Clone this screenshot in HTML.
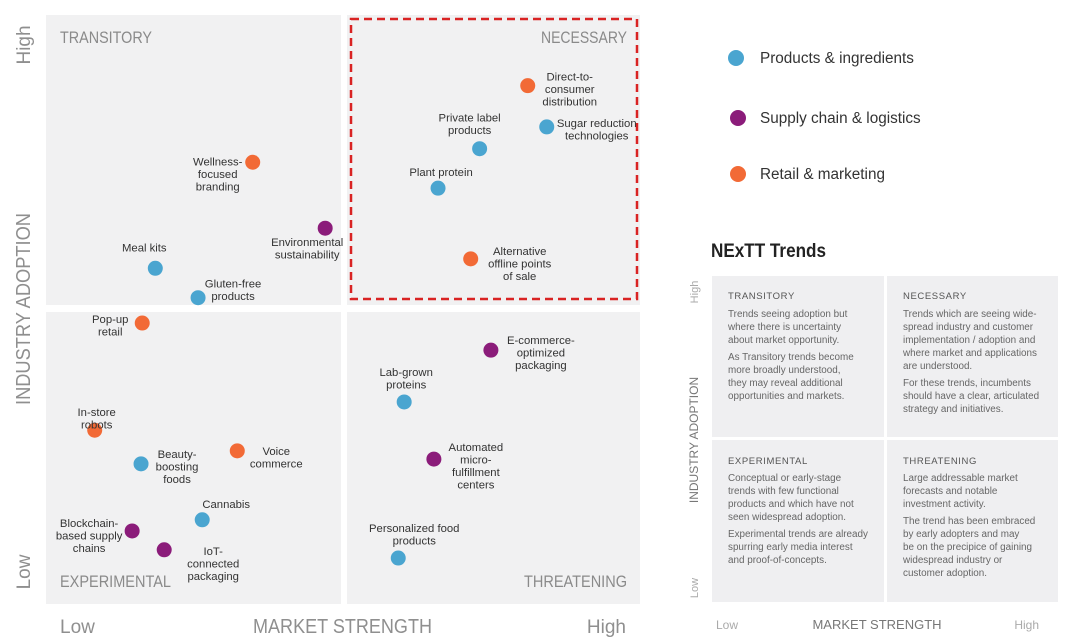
<!DOCTYPE html>
<html><head><meta charset="utf-8"><style>
html,body{margin:0;padding:0;background:#fff;}
svg{display:block;font-family:"Liberation Sans Narrow","Liberation Sans",sans-serif;}
.lbl{font-size:11.3px;fill:#333;}
.qt{font-size:17px;fill:#8a8a8a;}
.ax{font-size:19px;fill:#8f8f8f;}
.rp{font-family:"Liberation Sans",sans-serif;font-size:9.9px;fill:#666;}
.rh{font-family:"Liberation Sans",sans-serif;font-size:9.5px;fill:#555;letter-spacing:0.6px;}
.lg{font-family:"Liberation Sans",sans-serif;font-size:15.3px;fill:#333;}
</style></head><body>
<svg id="chart" width="1077" height="639" viewBox="0 0 1077 639">
<rect x="46" y="15" width="295" height="290" fill="#f1f1f2"/>
<rect x="347" y="15" width="293" height="290" fill="#f1f1f2"/>
<rect x="46" y="312" width="295" height="292" fill="#f1f1f2"/>
<rect x="347" y="312" width="293" height="292" fill="#f1f1f2"/>
<rect x="351" y="19" width="286" height="280" fill="none" stroke="#d92323" stroke-width="2.5" stroke-dasharray="8,5"/>
<text class="qt" x="60" y="43" textLength="92" lengthAdjust="spacingAndGlyphs">TRANSITORY</text>
<text class="qt" x="541" y="43" textLength="86" lengthAdjust="spacingAndGlyphs">NECESSARY</text>
<text class="qt" x="60" y="587" textLength="111" lengthAdjust="spacingAndGlyphs">EXPERIMENTAL</text>
<text class="qt" x="524" y="587" textLength="103" lengthAdjust="spacingAndGlyphs">THREATENING</text>
<text class="ax" transform="translate(30,45) rotate(-90)" text-anchor="middle">High</text>
<text class="ax" transform="translate(30,405) rotate(-90)" textLength="192" lengthAdjust="spacingAndGlyphs" style="font-size:20px">INDUSTRY ADOPTION</text>
<text class="ax" transform="translate(30,572) rotate(-90)" text-anchor="middle">Low</text>
<text class="ax" x="60" y="633">Low</text>
<text class="ax" x="253" y="633" textLength="179" lengthAdjust="spacingAndGlyphs" style="font-size:20px">MARKET STRENGTH</text>
<text class="ax" x="626" y="633" text-anchor="end">High</text>
<g id="marks"></g>

<circle cx="736" cy="58" r="8" fill="#4aa5d0"/>
<text class="lg" x="760" y="63">Products &amp; ingredients</text>
<circle cx="738" cy="118" r="8" fill="#8b1c7a"/>
<text class="lg" x="760" y="123">Supply chain &amp; logistics</text>
<circle cx="738" cy="174" r="8" fill="#f26a36"/>
<text class="lg" x="760" y="179">Retail &amp; marketing</text>

<text x="711" y="257" textLength="115" lengthAdjust="spacingAndGlyphs" style="font-family:'Liberation Sans',sans-serif;font-size:19px;font-weight:bold;fill:#222">NExTT Trends</text>
<rect x="712" y="276" width="172" height="161" fill="#efeff1"/>
<rect x="887" y="276" width="171" height="161" fill="#efeff1"/>
<rect x="712" y="440" width="172" height="162" fill="#efeff1"/>
<rect x="887" y="440" width="171" height="162" fill="#efeff1"/>
<g>
<text class="rh" x="728" y="299">TRANSITORY</text>
<text class="rp" x="728" y="317">Trends seeing adoption but</text>
<text class="rp" x="728" y="330">where there is uncertainty</text>
<text class="rp" x="728" y="343">about market opportunity.</text>
<text class="rp" x="728" y="360">As Transitory trends become</text>
<text class="rp" x="728" y="373">more broadly understood,</text>
<text class="rp" x="728" y="386">they may reveal additional</text>
<text class="rp" x="728" y="399">opportunities and markets.</text>
<text class="rh" x="903" y="299">NECESSARY</text>
<text class="rp" x="903" y="317">Trends which are seeing wide-</text>
<text class="rp" x="903" y="330">spread industry and customer</text>
<text class="rp" x="903" y="343">implementation / adoption and</text>
<text class="rp" x="903" y="356">where market and applications</text>
<text class="rp" x="903" y="369">are understood.</text>
<text class="rp" x="903" y="386">For these trends, incumbents</text>
<text class="rp" x="903" y="399">should have a clear, articulated</text>
<text class="rp" x="903" y="412">strategy and initiatives.</text>
<text class="rh" x="728" y="464">EXPERIMENTAL</text>
<text class="rp" x="728" y="481">Conceptual or early-stage</text>
<text class="rp" x="728" y="494">trends with few functional</text>
<text class="rp" x="728" y="507">products and which have not</text>
<text class="rp" x="728" y="520">seen widespread adoption.</text>
<text class="rp" x="728" y="537">Experimental trends are already</text>
<text class="rp" x="728" y="550">spurring early media interest</text>
<text class="rp" x="728" y="563">and proof-of-concepts.</text>
<text class="rh" x="903" y="464">THREATENING</text>
<text class="rp" x="903" y="481">Large addressable market</text>
<text class="rp" x="903" y="494">forecasts and notable</text>
<text class="rp" x="903" y="507">investment activity.</text>
<text class="rp" x="903" y="524">The trend has been embraced</text>
<text class="rp" x="903" y="537">by early adopters and may</text>
<text class="rp" x="903" y="550">be on the precipice of gaining</text>
<text class="rp" x="903" y="563">widespread industry or</text>
<text class="rp" x="903" y="576">customer adoption.</text>
</g>
<text transform="translate(698,292) rotate(-90)" text-anchor="middle" style="font-family:'Liberation Sans',sans-serif;font-size:11px;fill:#aaa">High</text>
<text transform="translate(698,440) rotate(-90)" text-anchor="middle" style="font-family:'Liberation Sans',sans-serif;font-size:12px;fill:#777">INDUSTRY ADOPTION</text>
<text transform="translate(698,588) rotate(-90)" text-anchor="middle" style="font-family:'Liberation Sans',sans-serif;font-size:11px;fill:#aaa">Low</text>
<text x="716" y="629" style="font-family:'Liberation Sans',sans-serif;font-size:12px;fill:#aaa">Low</text>
<text x="877" y="629" text-anchor="middle" style="font-family:'Liberation Sans',sans-serif;font-size:13px;fill:#777">MARKET STRENGTH</text>
<text x="1039" y="629" text-anchor="end" style="font-family:'Liberation Sans',sans-serif;font-size:12px;fill:#aaa">High</text>
</svg>
<script>
const trendNames = ["Wellness-focused branding","Environmental sustainability","Meal kits","Gluten-free products","Pop-up retail","In-store robots","Beauty-boosting foods","Voice commerce","Cannabis","Blockchain-based supply chains","IoT-connected packaging","Direct-to-consumer distribution","Sugar reduction technologies","Private label products","Plant protein","Alternative offline points of sale","E-commerce-optimized packaging","Lab-grown proteins","Automated micro-fulfillment centers","Personalized food products"];
const marketStrength = [34.8,47,18.4,25.6,16.2,8.2,16,32.2,26.3,14.5,19.9,81.1,84.3,73,66,71.5,74.9,60.3,65.3,59.3];
const industryAdoption = [75,63.8,57,52,47.7,29.5,23.8,26,14.3,12.4,9.2,88,81,77.3,70.6,58.6,43.1,34.3,24.6,7.8];
const categories = ["retail","supply","products","products","retail","retail","products","retail","products","supply","supply","retail","products","products","products","retail","supply","products","supply","products"];

const colors = {products:"#4aa5d0", supply:"#8b1c7a", retail:"#f26a36"};
const labelLines = [["Wellness-","focused","branding"],["Environmental","sustainability"],["Meal kits"],["Gluten-free","products"],["Pop-up","retail"],["In-store","robots"],["Beauty-","boosting","foods"],["Voice","commerce"],["Cannabis"],["Blockchain-","based supply","chains"],["IoT-","connected","packaging"],["Direct-to-","consumer","distribution"],["Sugar reduction","technologies"],["Private label","products"],["Plant protein"],["Alternative","offline points","of sale"],["E-commerce-","optimized","packaging"],["Lab-grown","proteins"],["Automated","micro-","fulfillment","centers"],["Personalized food","products"]];
const labelOffset = [[-35,3],[-18,18],[-11,-17],[35,-10],[-32,0],[2,-14],[36,-6],[39,4],[24,-12],[-43,-4],[49,5],[42,-5],[50,0],[-10,-27],[3,-12],[49,-4],[50,-6],[2,-26],[42,-8],[16,-26]];

const X0=46, X1=640, Y0=604, Y1=15;
const xScale = v => X0 + v/100*(X1-X0);
const yScale = v => Y0 - v/100*(Y0-Y1);
const NS="http://www.w3.org/2000/svg";
const g=document.getElementById('marks');
trendNames.forEach((name,i)=>{
  const cx=xScale(marketStrength[i]), cy=yScale(industryAdoption[i]);
  const c=document.createElementNS(NS,'circle');
  c.setAttribute('cx',cx); c.setAttribute('cy',cy); c.setAttribute('r',7.5);
  c.setAttribute('fill',colors[categories[i]]);
  
  
  g.appendChild(c);
  const t=document.createElementNS(NS,'text');
  t.setAttribute('class','lbl');
  t.setAttribute('text-anchor','middle');
  
  
  labelLines[i].forEach((ln,k)=>{
    const s=document.createElementNS(NS,'tspan');
    s.setAttribute('x',cx+labelOffset[i][0]);
    s.setAttribute('y',cy+labelOffset[i][1]+k*12.5);
    s.textContent=ln;
    t.appendChild(s);
  });
  g.appendChild(t);
});
</script>
</body></html>
